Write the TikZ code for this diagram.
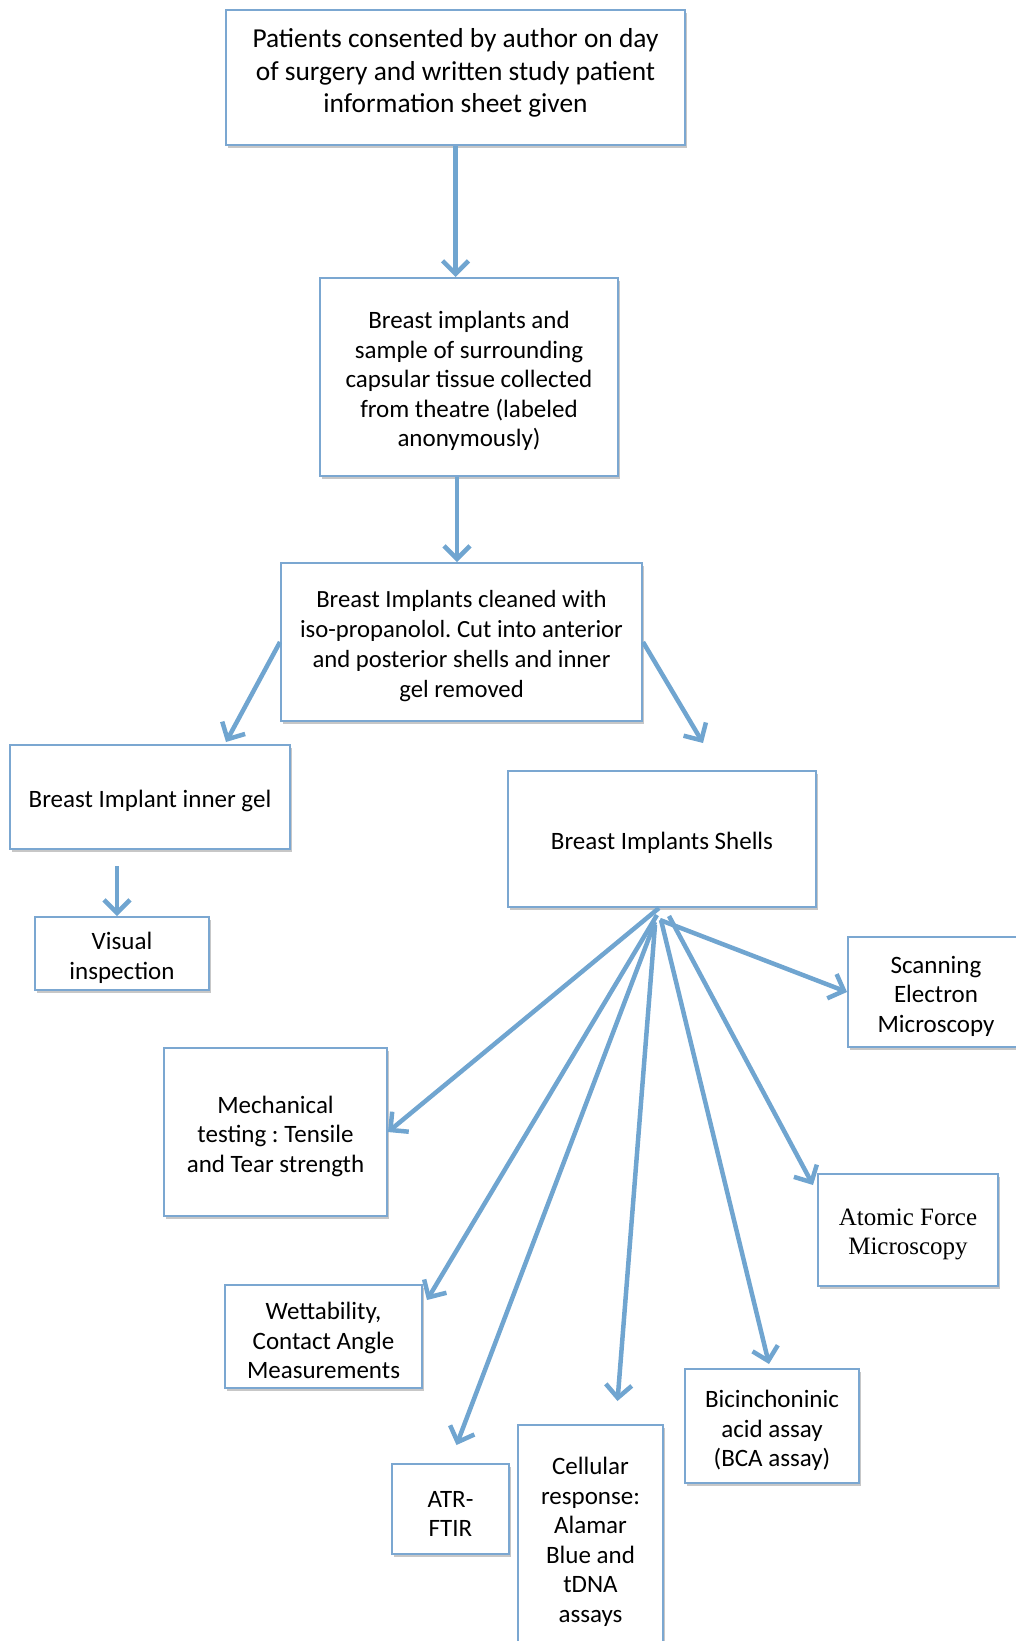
\documentclass[tikz,border=0pt]{standalone}
\usepackage{fontspec}
\setmainfont{Carlito}
\newfontfamily\serifface{Liberation Serif}
\usetikzlibrary{arrows.meta,calc,shadows}
\definecolor{boxblue}{HTML}{7BA7D1}
\definecolor{arrblue}{HTML}{70A5D0}
\newcommand\tpstrut{\rule{0pt}{26pt}}
\tikzset{
  box/.style={draw=boxblue, line width=2pt, fill=white, align=center, inner sep=2pt,
    drop shadow={shadow xshift=2pt, shadow yshift=-3pt, opacity=0.22, fill=black},
    font=\fontsize{25}{29.5}\selectfont},
  arr/.style={draw=arrblue, line width=4.5pt, -{Straight Barb[length=13pt,width=26pt,line width=4.5pt]}},
}
\begin{document}
\frenchspacing
\begin{tikzpicture}[x=1pt,y=-1pt]
\useasboundingbox (0,0) rectangle (1016,1641);
\node[box, minimum width=459, minimum height=135, font=\fontsize{27.4}{32.4}\selectfont] (p1) at (455.5,77.5)
  {Patients consented by author on day\\of surgery and written study patient\\information sheet given\rule[-14pt]{0pt}{0pt}};
\node[box, minimum width=298, minimum height=198] (p2) at (469,377)
  {\tpstrut Breast implants and\\sample of surrounding\\capsular tissue collected\\from theatre (labeled\\anonymously)};
\node[box, minimum width=361, minimum height=158, font=\fontsize{24.7}{30}\selectfont] (p3) at (461.5,642)
  {\tpstrut Breast Implants cleaned with\\iso-propanolol. Cut into anterior\\and posterior shells and inner\\gel removed};
\node[box, minimum width=280, minimum height=104] (gel) at (150,797) {\tpstrut Breast Implant inner gel};
\node[box, minimum width=308, minimum height=136] (shells) at (662,839) {\tpstrut Breast Implants Shells};
\node[box, minimum width=174, minimum height=73] (vis) at (122,953.5) {\tpstrut Visual\\inspection};
\node[box, minimum width=223, minimum height=168] (mech) at (275.5,1132) {\tpstrut Mechanical\\testing : Tensile\\and Tear strength};
\node[box, minimum width=197, minimum height=103] (wett) at (323.5,1336.5) {\tpstrut Wettability,\\Contact Angle\\Measurements};
\node[box, minimum width=117, minimum height=90] (atr) at (450.5,1509) {\tpstrut ATR-\\FTIR};
\node[box, minimum width=145, minimum height=225] (cell) at (590.5,1537.5) {\tpstrut Cellular\\response:\\Alamar\\Blue and\\tDNA\\assays};
\node[box, minimum width=174, minimum height=114] (bca) at (772,1426) {\tpstrut Bicinchoninic\\acid assay\\(BCA assay)};
\node[box, minimum width=180, minimum height=112, font=\serifface\fontsize{25}{29}\selectfont] (afm) at (908,1230) {\tpstrut Atomic Force\\Microscopy};
\node[box, minimum width=176, minimum height=110] (sem) at (936,992) {\tpstrut Scanning\\Electron\\Microscopy};
% main chain
\draw[arr] (p1.south) -- (p1.south |- p2.north);
\coordinate (a2s) at ($(p2.south)+(-12,0)$);
\draw[arr] (a2s) -- (a2s |- p3.north);
\draw[arr] (p3.west) -- ($(gel.north)+(76,-2)$);
\coordinate (shTop) at (703,743);
\draw[arr] (p3.east) -- (shTop);
\coordinate (gelOut) at (117,866);
\draw[arr] (gelOut) -- (gelOut |- vis.north);
% fan
\coordinate (fMech) at (659,908);
\coordinate (fWett) at (657,915);
\coordinate (fAtr) at (655,922);
\coordinate (fCell) at (655,925);
\coordinate (fBca) at (661,920);
\coordinate (fAfm) at (669,916);
\coordinate (fSem) at (660,920);
\draw[arr] (fMech) -- (mech.east);
\draw[arr] (fWett) -- ($(wett.north east)+(4,16)$);
\draw[arr] (fAtr) -- ($(atr.north)+(6,-18)$);
\draw[arr] (fCell) -- ($(cell.north)+(27,-23)$);
\draw[arr] (fBca) -- ($(bca.north)+(-3,-4)$);
\draw[arr] (fAfm) -- ($(afm.north west)+(-4,12)$);
\draw[arr] (fSem) -- (sem.west);
\end{tikzpicture}
\end{document}
